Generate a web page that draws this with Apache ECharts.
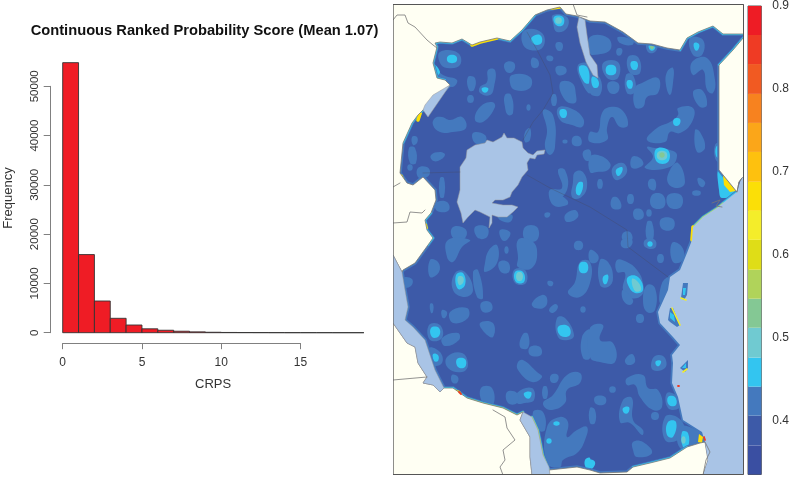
<!DOCTYPE html>
<html>
<head>
<meta charset="utf-8">
<style>
  html, body { margin: 0; padding: 0; background: #fff; }
  #chart { width: 792px; height: 477px; }
</style>
<script src="https://cdn.jsdelivr.net/npm/echarts@6/dist/echarts.min.js"></script>
</head>
<body>
<div id="chart"></div>
<script>
// histogram, one count per unit-wide CRPS bin
const binStarts = [0, 1, 2, 3, 4, 5, 6, 7, 8, 9, 10, 11, 12, 13, 14, 15, 16, 17, 18]
const binCounts = [54800, 15850, 6430, 2920, 1560, 790, 500, 300, 170, 90, 50, 35, 25, 18, 12, 9, 6, 4, 3]

// colour bar
const levelEdges = [0.335, 0.370, 0.406, 0.441, 0.476, 0.512, 0.547, 0.582, 0.618, 0.653, 0.688, 0.724, 0.759, 0.794, 0.830, 0.865, 0.900]
const levelColors = ['#3A4FA2', '#3D5AA8', '#4479BE', '#33C5F0', '#70CAD1', '#84C894', '#B0D35A', '#DFDD17', '#F4ED2A', '#FBDF07', '#FEC10E', '#FBA619', '#F7821F', '#F15A22', '#EF3B24', '#EE1C25']
const barTicks = [0.4, 0.5, 0.6, 0.7, 0.8, 0.9]

// map outlines in map units
const northEdge = [[435,43],[440,42],[452,43],[462,39],[472,45],[480,42],[497,38],[510,41],[522,30],[535,15],[547,10],[560,7],[566,14],[577,16],[590,21],[605,22],[623,32],[638,43],[652,44],[667,48],[680,50],[687,38],[698,32],[713,26],[723,34],[744,34]]
const somaliEdge = [[744,37],[733,50],[719,65],[719,170],[737,192]]
const oceanEdge = [[737,192],[733,195],[723,203],[717,208],[703,217],[693,227],[692,240],[687,253],[680,270],[670,277],[668,290],[658,312],[660,323],[673,337],[680,345],[672,355],[673,363],[672,383],[678,397],[683,420],[702,432],[705,442]]
const southEastEdge = [[705,442],[700,443],[687,447],[670,458],[650,463],[633,467],[627,472],[600,473],[590,470],[577,467],[549,470]]
const malawiEastEdge = [[549,470],[543,455],[538,430],[532,417]]
const southWestEdge = [[523,412],[517,415],[503,408],[483,403],[467,398],[453,388],[444,388]]
const tanganyikaEdge = [[444,388],[435,370],[425,340],[413,327],[405,320],[408,307],[405,290],[402,272]]
const westEdge = [[402,272],[403,270],[415,263],[428,245],[433,238],[427,230],[425,220],[431,213],[436,200],[435,190],[423,177],[413,185],[407,183],[400,173],[403,143],[412,123],[418,115],[423,110],[450,85],[445,80],[437,78],[433,63],[437,47],[435,43]]

const lakeVictoria = [[460,167],[466,158],[467,150],[475,145],[485,143],[487,140],[493,142],[502,137],[504,133],[507,138],[514,138],[522,142],[523,148],[528,153],[533,155],[537,151],[545,150],[544,154],[537,155],[535,159],[530,158],[527,163],[528,170],[522,177],[518,185],[512,192],[510,197],[503,200],[495,200],[492,203],[503,205],[512,205],[518,207],[513,212],[507,217],[498,217],[492,215],[492,223],[489,228],[490,217],[480,212],[475,210],[468,217],[463,223],[461,213],[457,202],[460,190],[460,177]]
const lakeAlbert = [[423,110],[428,117],[450,85],[433,95],[425,105]]
const lakeTurkana = [[579,17],[585,20],[587,35],[590,55],[597,65],[598,78],[593,75],[586,62],[580,43],[577,27]]
const lakeTanganyika = [[393,255],[402,272],[405,290],[408,307],[405,320],[413,327],[425,340],[435,370],[444,388],[440,392],[433,385],[423,383],[427,377],[418,363],[415,347],[407,343],[393,323]]
const lakeMalawi = [[523,412],[520,420],[530,437],[530,457],[532,475],[550,475],[549,467],[543,455],[538,430],[532,417]]
const oceanCorners = [[708,460],[703,475],[744,475],[744,177],[742,178],[740,182]]

const pemba = [[681,298],[683,283],[688,283],[687,295],[684,300]]
const zanzibar = [[668,320],[670,308],[673,308],[680,325],[677,327],[670,322]]
const mafia = [[680,368],[688,360],[688,368],[685,372]]
const islandCores = [[[683,288],[686,288],[685,295],[683,295]], [[670,312],[674,315],[675,322],[670,318]], [[682,368],[686,363],[686,368]]]

// contour patches by level
const level2Blobs = [
  [[440,52],[458,53],[460,65],[447,68],[440,63]], [[433,65],[443,75],[457,80],[452,87],[437,78]],
  [[468,77],[475,78],[474,90],[469,90]], [[468,96],[473,96],[473,102],[468,102]],
  [[488,70],[495,70],[494,87],[490,95],[480,93],[480,87],[487,82]], [[505,63],[513,62],[515,68],[510,73],[505,70]],
  [[512,75],[530,77],[530,88],[515,90],[510,83]], [[505,95],[511,95],[513,113],[508,115],[505,107]],
  [[492,102],[495,107],[483,122],[475,120],[480,107]], [[527,105],[530,105],[530,110],[527,110]],
  [[552,95],[556,95],[556,105],[552,105]], [[435,118],[442,117],[450,120],[462,117],[466,128],[453,132],[440,132],[433,125]],
  [[473,133],[485,135],[485,143],[475,143]], [[532,58],[538,60],[538,67],[532,67]],
  [[525,30],[542,33],[543,47],[530,50],[522,42]], [[553,15],[567,17],[567,28],[557,32],[553,23]],
  [[556,43],[562,43],[562,50],[557,50]], [[547,56],[553,57],[552,61],[547,60]],
  [[556,67],[565,67],[566,73],[558,75]], [[578,65],[590,65],[590,93],[582,83]],
  [[560,83],[572,83],[576,95],[575,103],[565,100]], [[558,108],[570,108],[583,118],[582,127],[572,125],[560,120]],
  [[543,110],[553,115],[555,147],[550,155],[545,147],[547,130]], [[525,132],[530,128],[530,140],[525,142]],
  [[573,137],[580,137],[581,145],[573,145]], [[563,140],[567,140],[567,143],[563,143]],
  [[583,152],[590,150],[590,160],[585,160]], [[409,148],[415,148],[416,163],[410,163]],
  [[412,137],[417,137],[417,143],[413,145]], [[431,155],[440,152],[445,155],[438,161],[432,160]],
  [[418,168],[427,167],[430,173],[425,178],[418,177]], [[408,165],[412,165],[412,170],[408,170]],
  [[440,178],[444,178],[444,197],[440,197]], [[437,202],[447,202],[449,210],[440,212],[435,208]],
  [[558,170],[565,170],[567,190],[555,200],[550,190],[562,188]], [[575,172],[583,172],[587,187],[580,198],[572,197],[573,182]],
  [[550,190],[567,200],[567,205],[553,205]], [[565,215],[575,210],[578,217],[567,222]],
  [[545,213],[550,213],[549,217],[545,217]], [[498,215],[512,215],[510,222],[500,220]],
  [[452,228],[462,227],[467,233],[462,240],[453,238]], [[475,227],[487,227],[487,237],[478,238]],
  [[500,230],[510,232],[507,240],[502,240]], [[525,227],[537,227],[537,240],[525,240]],
  [[590,37],[608,38],[610,50],[593,55],[590,53]], [[618,37],[633,40],[632,45],[620,43]],
  [[617,49],[622,49],[621,55],[617,55]], [[647,43],[657,45],[655,52],[648,52]],
  [[690,38],[703,40],[702,55],[693,55]], [[628,57],[638,57],[640,73],[630,73]],
  [[603,63],[618,62],[618,78],[607,78]], [[590,75],[600,78],[600,95],[590,93]],
  [[608,83],[618,83],[618,92],[610,93]], [[626,75],[633,75],[635,92],[627,93]],
  [[635,88],[642,83],[658,78],[658,93],[647,97],[643,107],[635,107]], [[667,72],[673,68],[673,83],[670,95],[666,85]],
  [[692,62],[707,58],[715,80],[713,93],[707,90],[703,70],[693,75]], [[693,92],[702,90],[707,105],[700,107]],
  [[602,113],[610,107],[622,110],[628,125],[620,127],[612,117],[607,128],[607,140],[590,142],[590,132],[598,132]],
  [[678,108],[693,108],[692,122],[680,133],[670,132],[665,142],[647,140],[657,128],[670,122],[678,115]],
  [[695,130],[700,132],[705,148],[697,152]], [[647,147],[655,148],[670,150],[677,155],[670,167],[645,168],[653,157]],
  [[590,157],[598,155],[610,163],[608,170],[597,172],[590,172]], [[632,157],[640,158],[643,165],[632,168]],
  [[613,167],[623,163],[627,172],[618,180],[613,177]], [[670,170],[678,163],[685,182],[678,188],[668,183]],
  [[649,180],[655,180],[655,190],[649,188]], [[598,180],[602,180],[602,188],[598,188]],
  [[628,195],[633,195],[633,203],[628,203]], [[612,198],[618,198],[621,208],[612,208]],
  [[652,195],[663,195],[664,207],[652,207]], [[668,195],[681,195],[681,207],[669,207]],
  [[634,210],[642,210],[643,218],[635,219]], [[661,219],[673,219],[673,229],[662,229]],
  [[693,191],[700,191],[700,195],[693,195]], [[698,178],[705,182],[703,187],[699,185]],
  [[647,222],[652,222],[653,240],[647,240]], [[647,210],[651,210],[651,216],[647,216]],
  [[623,233],[630,232],[632,240],[623,240]], [[715,145],[719,143],[719,162],[715,158]],
  [[448,240],[470,240],[462,247],[453,262],[447,257]], [[430,260],[438,262],[439,272],[430,277]],
  [[403,278],[412,279],[411,286],[403,287]], [[455,273],[465,272],[473,290],[465,297],[453,290]],
  [[473,272],[478,270],[483,298],[477,297]], [[489,250],[497,245],[497,263],[485,272],[485,263]],
  [[499,262],[508,262],[509,272],[501,272]], [[518,240],[530,240],[537,250],[532,268],[518,267],[518,258]],
  [[514,270],[525,270],[526,283],[515,283]], [[481,303],[490,302],[492,310],[483,312]],
  [[430,304],[433,304],[433,312],[431,313]], [[442,310],[447,312],[445,318],[442,317]],
  [[450,312],[467,308],[468,318],[453,323]], [[480,323],[493,323],[493,337],[485,333]],
  [[429,325],[440,325],[442,338],[430,340]], [[442,338],[458,333],[459,340],[445,346]],
  [[523,334],[528,334],[528,348],[520,347]], [[530,347],[540,347],[541,355],[530,355]],
  [[429,348],[440,352],[442,363],[433,365]], [[447,357],[462,353],[468,365],[462,372],[448,368]],
  [[518,362],[523,360],[537,372],[542,377],[532,382],[518,370]], [[452,375],[458,377],[457,383],[452,382]],
  [[551,375],[558,375],[557,382],[551,382]], [[567,375],[580,373],[580,383],[567,390],[565,403],[550,410],[543,403],[553,395]],
  [[543,387],[547,387],[547,398],[543,398]], [[517,393],[532,388],[534,400],[525,403],[517,403]],
  [[481,388],[492,388],[493,405],[483,403]], [[507,392],[517,393],[517,403],[508,403]],
  [[533,412],[543,412],[545,430],[538,430]], [[547,427],[560,417],[568,422],[567,437],[577,430],[587,427],[585,440],[577,453],[563,460],[560,467],[547,463]],
  [[580,262],[590,262],[590,283],[580,297],[568,293],[575,282]], [[532,303],[542,295],[547,298],[545,307],[535,308]],
  [[549,310],[555,304],[558,307],[553,313]], [[557,318],[565,318],[574,335],[568,340],[558,337]],
  [[548,281],[553,282],[552,286],[548,285]], [[582,337],[590,330],[590,358],[583,358]],
  [[581,307],[585,307],[585,312],[581,312]], [[505,247],[508,247],[508,253],[505,253]],
  [[575,242],[582,242],[582,249],[575,249]], [[645,240],[655,240],[655,248],[645,247]],
  [[622,240],[632,240],[630,247],[622,247]], [[672,243],[682,247],[683,260],[673,262]],
  [[600,260],[608,262],[613,278],[608,287],[600,285]], [[590,250],[598,255],[597,262],[590,262]],
  [[658,255],[663,255],[663,262],[658,262]], [[617,260],[627,262],[637,270],[643,283],[642,295],[630,298],[623,290],[625,273],[617,272]],
  [[647,285],[655,288],[655,310],[647,312],[643,300]], [[662,283],[670,277],[668,290],[660,303]],
  [[623,290],[633,300],[630,305],[623,300]], [[637,315],[643,315],[643,322],[637,322]],
  [[590,328],[603,325],[600,340],[613,343],[615,362],[600,362],[590,357]], [[625,360],[632,354],[635,362],[628,365]],
  [[652,360],[658,355],[665,358],[665,368],[653,370]], [[627,378],[643,375],[648,388],[658,390],[662,407],[653,410],[640,397],[635,385],[627,385]],
  [[610,387],[615,387],[615,392],[610,392]], [[595,397],[605,397],[605,404],[596,404]],
  [[667,393],[678,397],[679,408],[668,408]], [[623,400],[632,398],[633,420],[643,430],[642,435],[630,423],[620,422]],
  [[652,413],[658,413],[658,419],[652,419]], [[665,417],[677,417],[685,430],[678,440],[665,440]],
  [[590,408],[595,410],[595,423],[590,423]], [[680,427],[697,430],[702,437],[697,447],[680,448]],
  [[633,442],[643,442],[652,453],[637,457],[633,450]]
]
const level1Blobs = [[[557,441],[564,442],[563,445],[557,445]]]
const level3Blobs = [
  [[448,56],[456,56],[456,62],[448,62]], [[435,65],[440,72],[437,75]],
  [[482,88],[488,88],[487,92],[483,92]], [[532,37],[540,35],[542,42],[537,45],[532,42]],
  [[554,17],[563,17],[563,25],[556,25]], [[579,67],[587,67],[589,83],[584,82]],
  [[560,110],[566,110],[566,117],[561,117]], [[578,183],[583,183],[580,195],[576,193]],
  [[694,43],[699,44],[698,50],[695,50]], [[631,62],[637,62],[637,69],[632,69]],
  [[607,66],[615,66],[615,74],[607,74]], [[592,77],[598,80],[598,87],[593,87]],
  [[627,81],[632,81],[632,88],[628,88]], [[674,119],[680,119],[679,125],[674,125]],
  [[656,149],[668,150],[668,162],[657,162]], [[616,170],[622,167],[622,172],[618,176]],
  [[649,45],[655,46],[654,50],[650,50]], [[456,275],[463,273],[465,285],[458,289]],
  [[515,272],[523,272],[524,282],[516,282]], [[431,328],[439,328],[439,336],[432,337]],
  [[433,354],[438,355],[438,361],[434,361]], [[457,359],[465,359],[465,367],[458,367]],
  [[524,393],[531,392],[530,398],[526,398]], [[554,422],[559,422],[559,425],[554,425]],
  [[547,439],[551,439],[551,443],[547,443]], [[580,263],[587,263],[587,272],[580,272]],
  [[558,327],[568,326],[570,335],[561,336]], [[648,242],[652,242],[652,246],[648,246]],
  [[603,277],[608,275],[607,283],[604,284]], [[628,277],[638,277],[643,290],[635,293],[628,285]],
  [[656,361],[661,361],[659,366],[656,365]], [[668,397],[675,397],[676,405],[669,405]],
  [[623,408],[629,407],[628,413],[624,413]], [[668,422],[676,422],[673,437],[667,435]],
  [[682,432],[688,433],[688,447],[683,447]], [[585,460],[590,458],[590,468],[586,468]],
  [[590,460],[595,462],[593,468],[590,468]], [[716,147],[719,146],[719,158],[716,156]],
  [[719,170],[735,192],[722,198],[719,190]], [[450,387],[465,396],[470,401],[458,401],[450,393]]
]
const level4Blobs = [
  [[556,18],[561,18],[561,23],[556,23]], [[658,152],[666,152],[666,159],[658,159]],
  [[458,277],[463,277],[463,283],[459,285]], [[517,273],[522,273],[522,280],[517,280]],
  [[632,279],[638,282],[641,290],[635,291]], [[682,437],[685,437],[685,443],[682,443]]
]
const level5Blobs = [[[660,153],[664,153],[664,157],[660,157]], [[650,46],[654,46],[653,49],[651,49]]]
const yellowBlobs = [[[723,175],[736,191],[730,192],[724,185]], [[454,389],[460,391],[462,395],[457,395]], [[699,434],[703,437],[702,443],[698,442]], [[424,222],[427,224],[428,229],[425,228]]]

// hot stretches along the coast
const rimCyan = [
  northEdge.slice(0, 10), northEdge.slice(20, 26), somaliEdge.slice(0, 3),
  westEdge.slice(14, 18), westEdge.slice(19, 24), westEdge.slice(3, 8), oceanEdge.slice(0, 7),
  southWestEdge, malawiEastEdge, southEastEdge.slice(2, 6)
]
const rimGreen = [southWestEdge.slice(0, 5), malawiEastEdge, oceanEdge.slice(2, 6)]
const rimYellow = [
  [[472,45],[480,42],[497,38]], [[552,8],[560,7]], [[416,112],[420,114],[418,120]],
  [[401,176],[404,183]], [[693,227],[692,240]]
]
const islandYellow = [[[681,298],[686,300]], [[672,308],[680,325]], [[683,372],[687,369]]]
const rimRed = [[[459,392],[461,394]], [[704,437],[705,440]], [[678,386],[679,386]]]

// thin country borders
const landBorders = [
  [[527,32],[537,50],[550,75],[553,93],[543,110],[533,122],[523,140]],
  [[527,175],[550,188],[590,207],[627,230],[628,247],[668,277]],
  [[423,173],[460,172]]
]
const outerBorders = [
  [[393,20],[397,15],[405,15],[408,23],[415,27],[427,40],[433,45],[437,48]],
  [[393,187],[400,183]], [[393,223],[407,222],[410,212],[422,213],[425,210]],
  [[573,4],[577,15],[587,17]], [[393,380],[427,377]],
  [[493,410],[505,417],[507,428],[515,440],[503,450],[505,460],[500,467],[503,475]],
  [[705,442],[710,452],[706,460],[703,475]], [[737,192],[739,182],[742,178]],
  [[712,203],[720,200],[716,206],[722,207]]
]
const mapFrame = [[393,4.5],[743.5,4.5],[743.5,474.5],[393,474.5]]

// outside masks, built from the edges so they share the coast
const northMask = [[393,4],[744,4],...[...westEdge.slice(0, -1), ...northEdge].reverse(),[393,255]]
const somaliMask = [...somaliEdge,[739,182],[742,178],[744,177]]
const southEastMask = [...southEastEdge,[549,475],[703,475],[708,460]]
const southWestMask = [[393,475],[532,475],[530,457],[530,437],[520,420],...southWestEdge,[440,392],[433,385],[423,383],[427,377],[418,363],[415,347],[407,343],[393,323]]
const ocean = [...oceanEdge,...oceanCorners]

const fontFamily = '"Liberation Sans", Arial, sans-serif'
const axisGray = '#808080'
const textColor = '#333'

// one custom series per map layer, shapes go through the map axes
const shapeSeries = (shapes, style, polyline, smooth) => ({
  type: 'custom',
  xAxisIndex: 1,
  yAxisIndex: 1,
  coordinateSystem: 'cartesian2d',
  silent: true,
  clip: true,
  data: shapes.map((s, i) => [i]),
  renderItem: (params, api) => ({
    type: polyline ? 'polyline' : 'polygon',
    shape: {
      points: shapes[params.dataIndex].map(p => api.coord(p)),
      smooth: smooth || 0
    },
    style: polyline ? { fill: null, lineCap: 'round', ...style } : style
  })
})

const histSeries = {
  type: 'custom',
  xAxisIndex: 0,
  yAxisIndex: 0,
  silent: true,
  data: binStarts.map((start, i) => [start, binCounts[i]]),
  renderItem: (params, api) => {
    const start = api.value(0)
    const corner = api.coord([start, api.value(1)])
    const base = api.coord([start + 1, 0])
    return {
      type: 'rect',
      shape: { x: corner[0], y: corner[1], width: base[0] - corner[0], height: base[1] - corner[1] },
      style: { fill: '#EF1C25', stroke: '#333', lineWidth: 0.9 }
    }
  }
}

const colorBarSeries = {
  type: 'custom',
  xAxisIndex: 2,
  yAxisIndex: 2,
  silent: true,
  data: levelColors.map((c, i) => [0, levelEdges[i], levelEdges[i + 1]]),
  renderItem: (params, api) => {
    const low = api.coord([0, api.value(1)])
    const high = api.coord([1, api.value(2)])
    return {
      type: 'rect',
      shape: { x: low[0], y: high[1], width: high[0] - low[0], height: low[1] - high[1] },
      style: { fill: levelColors[params.dataIndex] }
    }
  }
}

const landFill = levelColors[1]
const ivory = '#FFFFF3'
const water = '#A9C4E6'
const blobSmooth = 0.45
const maskStyle = { fill: ivory, stroke: '#777', lineWidth: 0.8 }
const lakeStyle = { fill: water, stroke: '#9a9a9a', lineWidth: 0.5 }

const chart = echarts.init(document.getElementById('chart'), null, { renderer: 'canvas' })
chart.setOption({
  animation: false,
  backgroundColor: '#fff',
  textStyle: { fontFamily },
  title: {
    text: 'Continuous Ranked Probability Score (Mean 1.07)',
    left: 199.5,
    top: 18,
    textAlign: 'center',
    textStyle: { fontFamily, fontSize: 14.7, fontWeight: 'bold', color: '#111' }
  },
  grid: [
    { left: 62.7, top: 86.3, width: 237.8, height: 246.4 },
    { left: 393, top: 4, width: 351, height: 471, show: true, backgroundColor: landFill, borderWidth: 0 },
    { left: 748, top: 5, width: 15, height: 469.5, show: true, borderColor: '#555', borderWidth: 1 }
  ],
  xAxis: [
    {
      gridIndex: 0, type: 'value', min: 0, max: 15, interval: 5, position: 'bottom', offset: 10.5,
      splitLine: { show: false },
      axisLine: { show: true, onZero: false, lineStyle: { color: axisGray } },
      axisTick: { show: true, length: 6, lineStyle: { color: axisGray } },
      axisLabel: { fontSize: 12, color: textColor, margin: 13, fontFamily, showMinLabel: true, showMaxLabel: true },
      name: 'CRPS', nameLocation: 'middle', nameGap: 35,
      nameTextStyle: { fontSize: 13, color: textColor, fontFamily, padding: [0, 0, 0, 63] }
    },
    { gridIndex: 1, type: 'value', min: 393, max: 744, show: false },
    { gridIndex: 2, type: 'value', min: 0, max: 1, show: false }
  ],
  yAxis: [
    {
      gridIndex: 0, type: 'value', min: 0, max: 50000, interval: 10000, position: 'left', offset: 12,
      splitLine: { show: false },
      axisLine: { show: true, onZero: false, lineStyle: { color: axisGray } },
      axisTick: { show: true, length: 7, lineStyle: { color: axisGray } },
      axisLabel: { fontSize: 11.5, color: textColor, rotate: 90, margin: 10, fontFamily, showMinLabel: true, showMaxLabel: true, formatter: v => String(v) },
      name: 'Frequency', nameLocation: 'middle', nameGap: 36, nameRotate: 90,
      nameTextStyle: { fontSize: 13, color: textColor, fontFamily, padding: [0, 0, 0, 23] }
    },
    { gridIndex: 1, type: 'value', min: 4, max: 475, inverse: true, show: false },
    {
      gridIndex: 2, type: 'value', min: 0.335, max: 0.9, position: 'right',
      splitLine: { show: false },
      axisLine: { show: false },
      axisTick: { show: true, length: 4, customValues: barTicks, lineStyle: { color: '#444' } },
      axisLabel: { fontSize: 12, color: textColor, margin: 11, fontFamily, customValues: barTicks, formatter: v => v.toFixed(1) }
    }
  ],
  series: [
    histSeries,
    colorBarSeries,
    shapeSeries(level1Blobs, { fill: levelColors[0] }, false, blobSmooth),
    shapeSeries(level2Blobs, { fill: levelColors[2] }, false, blobSmooth),
    shapeSeries(level3Blobs, { fill: levelColors[3] }, false, blobSmooth),
    shapeSeries(level4Blobs, { fill: levelColors[4] }, false, blobSmooth),
    shapeSeries(level5Blobs, { fill: levelColors[5] }, false, blobSmooth),
    shapeSeries([northEdge, somaliEdge, oceanEdge, southEastEdge, malawiEastEdge, southWestEdge, tanganyikaEdge, westEdge], { stroke: levelColors[2], lineWidth: 3.5 }, true),
    shapeSeries(rimCyan, { stroke: levelColors[3], lineWidth: 2 }, true),
    shapeSeries(rimGreen, { stroke: levelColors[6], lineWidth: 1.2 }, true),
    shapeSeries(rimYellow, { stroke: levelColors[9], lineWidth: 3.5 }, true),
    shapeSeries(yellowBlobs, { fill: levelColors[9] }),
    shapeSeries([northMask, somaliMask, southEastMask, southWestMask], maskStyle),
    shapeSeries([ocean], { fill: water }),
    shapeSeries([lakeVictoria], lakeStyle),
    shapeSeries([lakeAlbert, lakeTurkana, lakeTanganyika, lakeMalawi], lakeStyle),
    shapeSeries([pemba, zanzibar, mafia], { fill: levelColors[2] }),
    shapeSeries(islandCores, { fill: levelColors[3] }),
    shapeSeries(islandYellow, { stroke: levelColors[8], lineWidth: 1.6 }, true),
    shapeSeries(rimRed, { stroke: levelColors[14], lineWidth: 1.8 }, true),
    shapeSeries(landBorders, { stroke: 'rgba(70,70,90,0.45)', lineWidth: 0.7 }, true),
    shapeSeries(outerBorders, { stroke: '#777', lineWidth: 0.8 }, true),
    shapeSeries([mapFrame], { fill: 'none', stroke: '#555', lineWidth: 1 })
  ]
})
</script>
</body>
</html>
